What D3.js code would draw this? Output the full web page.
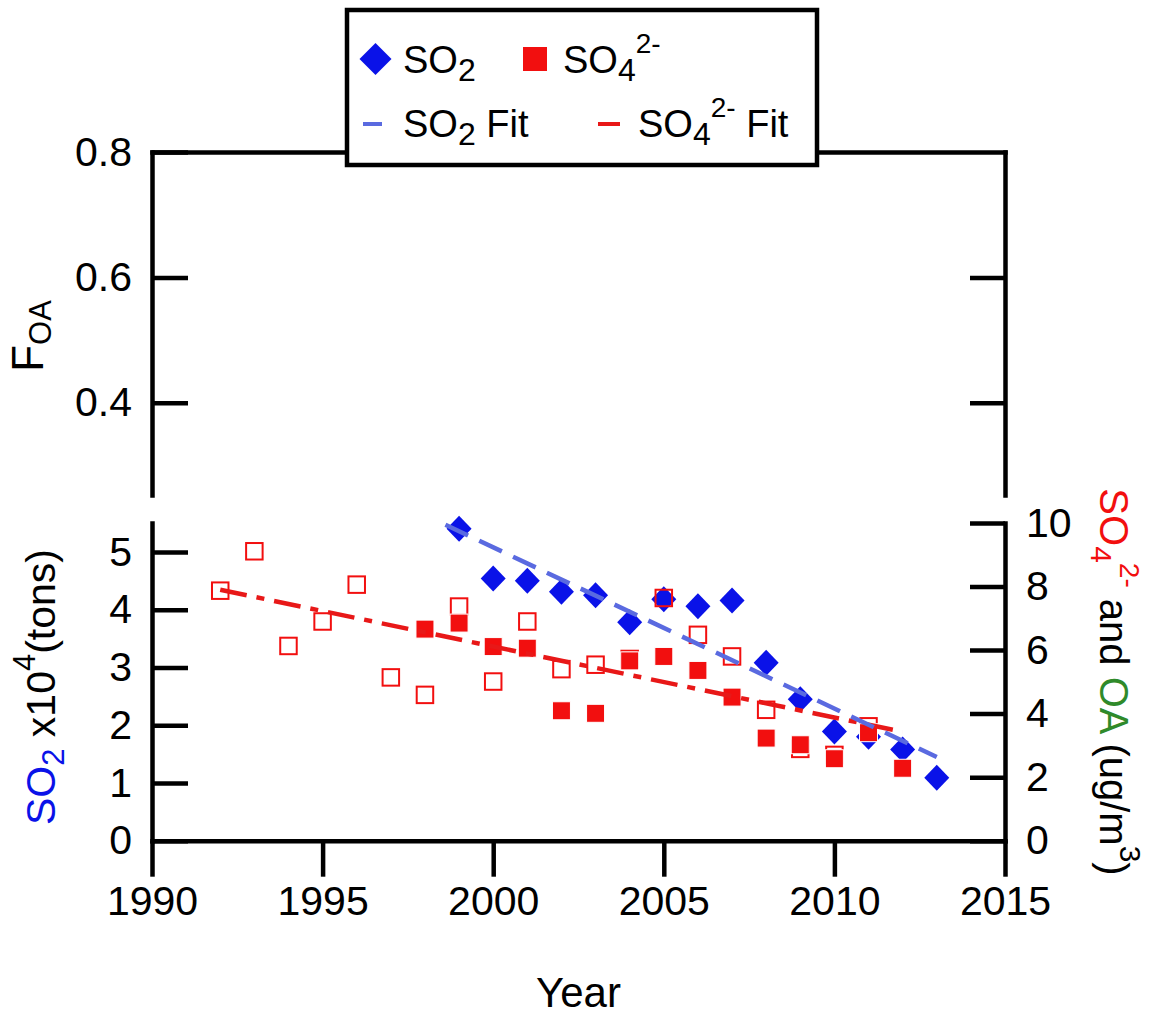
<!DOCTYPE html>
<html>
<head>
<meta charset="utf-8">
<script src="https://cdn.jsdelivr.net/npm/d3@7"></script>
<style>
  html, body { margin: 0; padding: 0; background: #fff; }
  svg { display: block; font-family: "Liberation Sans", Arial, Helvetica, sans-serif; }
</style>
</head>
<body>
<svg id="chart" width="1152" height="1016"></svg>
<script>
// SO2 emissions, x10^4 tons (left axis, lower panel)
const so2Years  = [1999, 2000, 2001, 2002, 2003, 2004, 2005, 2006, 2007, 2008, 2009, 2010, 2011, 2012, 2013];
const so2Values = [5.40, 4.54, 4.50, 4.31, 4.25, 3.78, 4.18, 4.06, 4.16, 3.08, 2.45, 1.89, 1.80, 1.58, 1.09];

// SO4 2- concentration, ug/m3 (right axis) – filled markers
const so4Years  = [1998, 1999, 2000, 2001, 2002, 2003, 2004, 2005, 2006, 2007, 2008, 2009, 2010, 2011, 2012];
const so4Values = [6.66, 6.85, 6.11, 6.06, 4.09, 4.01, 5.66, 5.80, 5.36, 4.52, 3.23, 3.02, 2.58, 3.40, 2.28];

// SO4 2- concentration, ug/m3 (right axis) – open markers
const so4OpenYears  = [1992, 1993, 1994, 1995, 1996, 1997, 1998, 1999, 2000, 2001, 2002, 2003, 2004, 2005, 2006, 2007, 2008, 2009, 2010, 2011];
const so4OpenValues = [7.87, 9.11, 6.13, 6.90, 8.06, 5.14, 4.59, 7.37, 5.01, 6.90, 5.40, 5.54, 5.72, 7.64, 6.48, 5.80, 4.12, 2.89, 2.70, 3.60];

// Linear fits (end points)
const so2FitYears  = [1998.6, 2013];
const so2FitValues = [5.47, 1.45];
const so4FitYears  = [1992, 2012];
const so4FitValues = [7.90, 3.43];

// Tick values
const yearTicks = [1990, 1995, 2000, 2005, 2010, 2015];
const foaTicks  = [0.4, 0.6, 0.8];
const so2Ticks  = [0, 1, 2, 3, 4, 5];
const so4Ticks  = [0, 2, 4, 6, 8, 10];

const BLUE = "#0a12e8";
const BLUE_FIT = "#5a6ae0";
const RED = "#f20f0f";
const RED_FIT = "#e81818";
const GREEN = "#2f8a2a";
const FONT = '"Liberation Sans", Arial, Helvetica, sans-serif';
const TICK_FONT = 41;
const AXIS_W = 4.5;

const svg = d3.select("#chart");

// Scales
const x  = d3.scaleLinear().domain([1990, 2015]).range([152, 1005]);
const yF = d3.scaleLinear().domain([0.253, 0.8]).range([495, 152]);
const yL = d3.scaleLinear().domain([0, 5.5]).range([840.7, 523]);
const yR = d3.scaleLinear().domain([0, 10]).range([840.7, 523]);

function styleAxis(g) {
  g.attr("font-family", FONT).attr("font-size", TICK_FONT);
  g.selectAll("path").attr("stroke", "#000").attr("stroke-width", AXIS_W).attr("stroke-linecap", "square");
  g.selectAll("line").attr("stroke", "#000").attr("stroke-width", AXIS_W);
  g.selectAll("text").attr("fill", "#000");
}

// ---- upper panel (F_OA) ----
svg.append("g")
  .attr("transform", `translate(0,${yF(0.8)})`)
  .call(d3.axisTop(x).tickValues([]).tickSizeOuter(0))
  .call(styleAxis);

svg.append("g")
  .attr("transform", `translate(${x(1990)},0)`)
  .call(d3.axisLeft(yF).tickValues(foaTicks).tickSize(-36).tickSizeOuter(0)
        .tickPadding(20).tickFormat(d3.format(".1f")))
  .call(styleAxis);

svg.append("g")
  .attr("transform", `translate(${x(2015)},0)`)
  .call(d3.axisRight(yF).tickValues([0.4, 0.6]).tickSize(-35).tickSizeOuter(0).tickFormat(""))
  .call(styleAxis);

// ---- lower panel ----
svg.append("g")
  .attr("transform", `translate(${x(1990)},0)`)
  .call(d3.axisLeft(yL).tickValues(so2Ticks).tickSize(-36).tickSizeOuter(0)
        .tickPadding(20).tickFormat(d3.format("d")))
  .call(styleAxis);

svg.append("g")
  .attr("transform", `translate(${x(2015)},0)`)
  .call(d3.axisRight(yR).tickValues(so4Ticks).tickSize(-35).tickSizeOuter(0)
        .tickPadding(21).tickFormat(d3.format("d")))
  .call(styleAxis);

svg.append("g")
  .attr("transform", `translate(0,${yL(0)})`)
  .call(d3.axisBottom(x).tickValues(yearTicks).tickSize(36).tickSizeOuter(0)
        .tickPadding(9).tickFormat(d3.format("d")))
  .call(styleAxis);

// ---- data marks ----
const diamond = "M0,-13L12.5,0L0,13L-12.5,0Z";
const plot = svg.append("g");

plot.selectAll("path.so2")
  .data(so2Years.map((yr, i) => ({ yr, v: so2Values[i] })))
  .join("path")
  .attr("class", "so2")
  .attr("d", diamond)
  .attr("transform", d => `translate(${x(d.yr)},${yL(d.v)})`)
  .attr("fill", BLUE);

const OPEN = 16.5;
plot.selectAll("rect.so4open")
  .data(so4OpenYears.map((yr, i) => ({ yr, v: so4OpenValues[i] })))
  .join("rect")
  .attr("class", "so4open")
  .attr("x", d => x(d.yr) - OPEN / 2)
  .attr("y", d => yR(d.v) - OPEN / 2)
  .attr("width", OPEN).attr("height", OPEN)
  .attr("fill", "none")
  .attr("stroke", RED).attr("stroke-width", 2);

const FILLED = 18;
plot.selectAll("rect.so4")
  .data(so4Years.map((yr, i) => ({ yr, v: so4Values[i] })))
  .join("rect")
  .attr("class", "so4")
  .attr("x", d => x(d.yr) - FILLED / 2)
  .attr("y", d => yR(d.v) - FILLED / 2)
  .attr("width", FILLED).attr("height", FILLED)
  .attr("fill", RED)
  .attr("stroke", "#fff").attr("stroke-width", 1);

// ---- fit lines ----
const so4Line = d3.line().x(d => x(d[0])).y(d => yR(d[1]));
plot.append("path")
  .attr("d", so4Line(so4FitYears.map((yr, i) => [yr, so4FitValues[i]])))
  .attr("fill", "none")
  .attr("stroke", RED_FIT).attr("stroke-width", 4.5)
  .attr("stroke-dasharray", "27,10,8,10");

const so2Line = d3.line().x(d => x(d[0])).y(d => yL(d[1]));
plot.append("path")
  .attr("d", so2Line(so2FitYears.map((yr, i) => [yr, so2FitValues[i]])))
  .attr("fill", "none")
  .attr("stroke", BLUE_FIT).attr("stroke-width", 4.5)
  .attr("stroke-dasharray", "25,12.4");

// ---- axis titles ----
function addSpans(text, parts) {
  parts.forEach(p => {
    const t = text.append("tspan").text(p.t);
    if (p.fill) t.attr("fill", p.fill);
    if (p.size) t.attr("font-size", p.size);
    if (p.dy !== undefined) t.attr("dy", p.dy);
  });
}

// F_OA
const tF = svg.append("text")
  .attr("transform", "translate(43,336) rotate(-90)")
  .attr("text-anchor", "middle")
  .attr("font-family", FONT).attr("font-size", 44).attr("fill", "#000");
addSpans(tF, [
  { t: "F" },
  { t: "OA", size: 31, dy: 8 }
]);

// SO2 x10^4 (tons)
const tL = svg.append("text")
  .attr("transform", "translate(55,687) rotate(-90)")
  .attr("text-anchor", "middle")
  .attr("font-family", FONT).attr("font-size", 41).attr("fill", "#000");
addSpans(tL, [
  { t: "SO", fill: BLUE },
  { t: "2", fill: BLUE, size: 31, dy: 9 },
  { t: " x10", dy: -9 },
  { t: "4", size: 31, dy: -20 },
  { t: "(tons)", dy: 20 }
]);

// SO4 2- and OA (ug/m3)
const tR = svg.append("text")
  .attr("transform", "translate(1100,682) rotate(90)")
  .attr("text-anchor", "middle")
  .attr("font-family", FONT).attr("font-size", 40).attr("fill", "#000");
addSpans(tR, [
  { t: "SO", fill: RED },
  { t: "4", fill: RED, size: 30, dy: 9 },
  { t: "2-", fill: RED, size: 28, dy: -29 },
  { t: " and ", dy: 20 },
  { t: "OA", fill: GREEN },
  { t: " (ug/m" },
  { t: "3", size: 30, dy: -20 },
  { t: ")", dy: 20 }
]);

// Year
svg.append("text")
  .attr("x", x(2002.5)).attr("y", 1007)
  .attr("text-anchor", "middle")
  .attr("font-family", FONT).attr("font-size", 42).attr("fill", "#000")
  .text("Year");

// ---- legend ----
const lg = svg.append("g");
lg.append("rect")
  .attr("x", 347).attr("y", 10).attr("width", 470).attr("height", 155)
  .attr("fill", "#fff").attr("stroke", "#000").attr("stroke-width", 4.5);

lg.append("path")
  .attr("d", "M0,-16L16,0L0,16L-16,0Z")
  .attr("transform", "translate(375.5,59)")
  .attr("fill", BLUE);
lg.append("rect")
  .attr("x", 523).attr("y", 47).attr("width", 24).attr("height", 24)
  .attr("fill", RED);
lg.append("line")
  .attr("x1", 363).attr("x2", 382).attr("y1", 124).attr("y2", 124)
  .attr("stroke", BLUE_FIT).attr("stroke-width", 4);
lg.append("line")
  .attr("x1", 598).attr("x2", 620).attr("y1", 124).attr("y2", 124)
  .attr("stroke", RED_FIT).attr("stroke-width", 4);

function legendText(xp, yp, parts) {
  const t = lg.append("text")
    .attr("x", xp).attr("y", yp)
    .attr("font-family", FONT).attr("font-size", 38).attr("fill", "#000");
  addSpans(t, parts);
}
legendText(403, 73, [{ t: "SO" }, { t: "2", size: 32, dy: 8 }]);
legendText(563, 73, [{ t: "SO" }, { t: "4", size: 32, dy: 8 }, { t: "2-", size: 28, dy: -28 }]);
legendText(403, 137, [{ t: "SO" }, { t: "2", size: 32, dy: 8 }, { t: " Fit", dy: -8 }]);
legendText(638, 137, [{ t: "SO" }, { t: "4", size: 32, dy: 8 }, { t: "2-", size: 28, dy: -28 }, { t: " Fit", dy: 20 }]);
</script>
</body>
</html>
